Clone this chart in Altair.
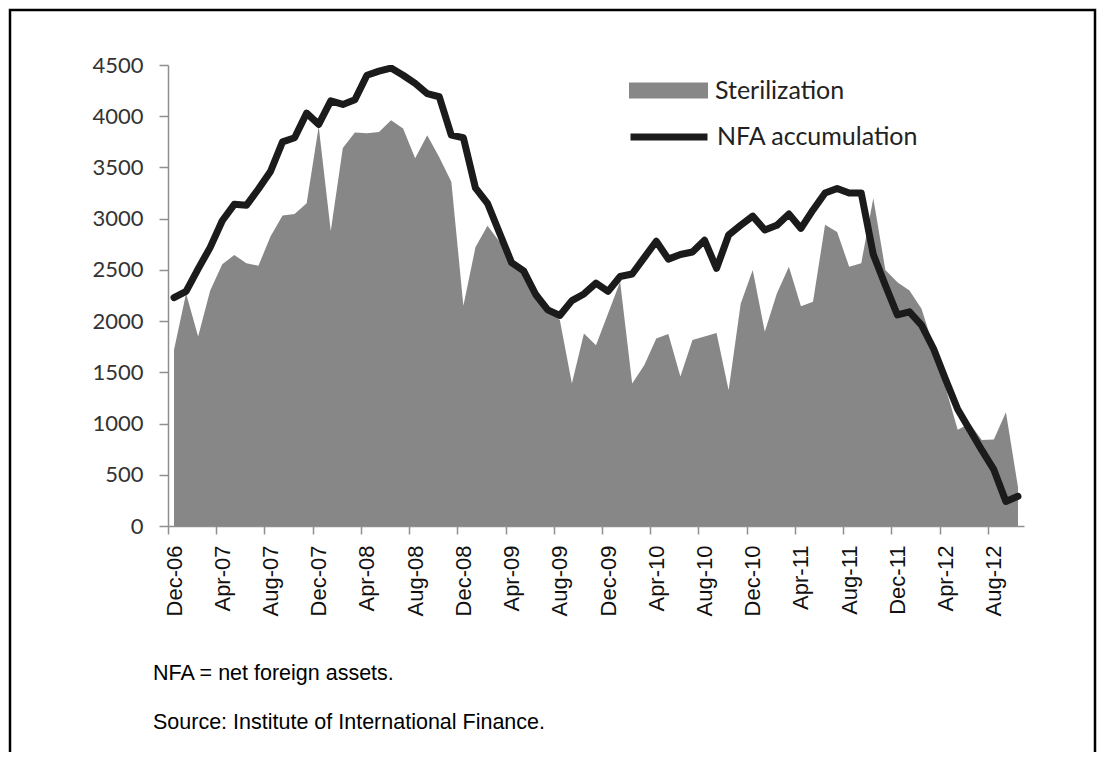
import altair as alt
import pandas as pd

# Monthly categories, Dec-06 .. Oct-12
months = list(pd.date_range("2006-12-01", periods=71, freq="MS").strftime("%b-%y"))

sterilization = [
    1720, 2270, 1850, 2300, 2555, 2645, 2565, 2540, 2825, 3030, 3045, 3150,
    3900, 2880, 3690, 3840, 3835, 3845, 3960, 3880, 3590, 3815, 3600, 3360,
    2150, 2720, 2930, 2775, 2600, 2480, 2260, 2100, 2010, 1390, 1880, 1765,
    2075, 2385, 1390, 1570, 1830, 1875, 1460, 1815, 1850, 1885, 1325, 2170,
    2500, 1895, 2270, 2530, 2145, 2190, 2940, 2870, 2530, 2565, 3200, 2500,
    2380, 2300, 2120, 1750, 1350, 940, 1000, 840, 845, 1110, 380,
]

nfa_accumulation = [
    2230, 2290, 2510, 2720, 2980, 3140, 3130, 3290, 3460, 3750, 3790, 4030,
    3920, 4150, 4115, 4160, 4400, 4440, 4470, 4400, 4320, 4220, 4190, 3815,
    3790, 3300, 3150, 2860, 2570, 2490, 2260, 2110, 2055, 2200, 2265, 2370,
    2290, 2435, 2460, 2620, 2780, 2605, 2650, 2675, 2790, 2515, 2840, 2935,
    3025, 2890, 2935, 3045, 2905, 3085, 3250, 3295, 3250, 3250, 2650, 2350,
    2060, 2090, 1960, 1730, 1430, 1140, 940, 740, 550, 240, 290,
]

tick_labels = ["Dec-06", "Apr-07", "Aug-07", "Dec-07", "Apr-08", "Aug-08",
               "Dec-08", "Apr-09", "Aug-09", "Dec-09", "Apr-10", "Aug-10",
               "Dec-10", "Apr-11", "Aug-11", "Dec-11", "Apr-12", "Aug-12"]
y_ticks = [0, 500, 1000, 1500, 2000, 2500, 3000, 3500, 4000, 4500]

series_names = ["Sterilization", "NFA accumulation"]
footnotes = ["NFA = net foreign assets.", "Source: Institute of International Finance."]

AREA = "#878787"
LINE = "#1b1b1b"
AXIS = "#8f8f8f"

W, H = 856, 461
PAD = {"left": 160, "top": 57, "right": 73, "bottom": 226}
FRAME_EXTRA = 20  # frame runs past the bottom edge (open bottom)

df = pd.DataFrame({
    "month": months,
    "idx": list(range(len(months))),
    "sterilization": sterilization,
    "nfa": nfa_accumulation,
})

n = len(months)
label_expr = "[" + ",".join("'%s'" % t for t in tick_labels) + "][round(datum.value / 4)]"

xscale = alt.Scale(domain=[0, n], nice=False, zero=False)
yscale = alt.Scale(domain=[0, 4500], nice=False)

xaxis = alt.Axis(
    values=[4 * k for k in range(len(tick_labels))],
    labelExpr=label_expr,
    title=None, grid=False,
    domainColor=AXIS, tickColor=AXIS, tickSize=8, domainWidth=1.5, tickWidth=1.5,
    labelAngle=270, labelAlign="right", labelBaseline="middle",
    labelOffset=6, labelPadding=11,
    labelFont="Liberation Sans", labelFontSize=22, labelColor="#111111",
    labelOverlap=False, labelFlush=False,
)
yaxis = alt.Axis(
    values=y_ticks, format="d", title=None, grid=False,
    domainColor=AXIS, tickColor=AXIS, tickSize=9, domainWidth=1.5, tickWidth=1.5,
    labelPadding=16, labelFont="Lato", labelFontSize=22, labelColor="#333333",
    labelOverlap=False, labelFlush=False,
)

base = alt.Chart(df).transform_calculate(
    pos="datum.idx + 0.5",
    s1="'%s'" % series_names[0],
    s2="'%s'" % series_names[1],
)

area = base.mark_area(clip=True, opacity=1).encode(
    x=alt.X("pos:Q", scale=xscale, axis=xaxis),
    y=alt.Y("sterilization:Q", scale=yscale, axis=yaxis),
    fill=alt.Fill(
        "s1:N",
        scale=alt.Scale(domain=[series_names[0]], range=[AREA]),
        legend=alt.Legend(
            title=None, orient="none", legendX=461, legendY=-14, padding=0,
            symbolType="M-1,-0.2H1V0.2H-1Z", symbolSize=6241,
            symbolStrokeWidth=0, symbolOpacity=1,
            labelFont="Lato", labelFontSize=25, labelColor="#222222",
            labelOffset=7, labelLimit=0,
        ),
    ),
)

line = base.mark_line(clip=True, strokeWidth=7, strokeJoin="round", strokeCap="round").encode(
    x=alt.X("pos:Q", scale=xscale),
    y=alt.Y("nfa:Q", scale=yscale),
    stroke=alt.Stroke(
        "s2:N",
        scale=alt.Scale(domain=[series_names[1]], range=[LINE]),
        legend=alt.Legend(
            title=None, orient="none", legendX=459, legendY=30, padding=0,
            symbolType="stroke", symbolSize=5929, symbolStrokeWidth=7,
            labelFont="Lato", labelFontSize=25, labelColor="#222222",
            labelOffset=6, labelLimit=0,
        ),
    ),
)

# decorative figure border (not data)
frame = alt.Chart(pd.DataFrame({"f": [0]})).mark_rect(
    fill="transparent", stroke="#000000", strokeWidth=2.5, clip=False
).encode(
    x=alt.value(-PAD["left"] + 2),
    x2=alt.value(W + PAD["right"] - 2),
    y=alt.value(-PAD["top"] + 2),
    y2=alt.value(H + PAD["bottom"] + FRAME_EXTRA),
)

# the frame extends the layout bounds below; pull the footnotes back up
title_offset = 47 - (PAD["bottom"] + FRAME_EXTRA + 1.25 - 90)

chart = alt.layer(area, line, frame).resolve_legend(fill="independent", stroke="independent").properties(
    width=W,
    height=H,
    autosize=alt.AutoSizeParams(type="none"),
    padding=PAD,
    background="white",
    title=alt.Title(
        footnotes, orient="bottom", anchor="start", frame="group",
        font="Liberation Sans", fontSize=21.5, fontWeight="normal", color="#000000",
        lineHeight=49, dx=-15, offset=title_offset,
    ),
).configure_view(stroke=None)

chart.save("out.html", embed_options={"renderer": "svg", "actions": False})
